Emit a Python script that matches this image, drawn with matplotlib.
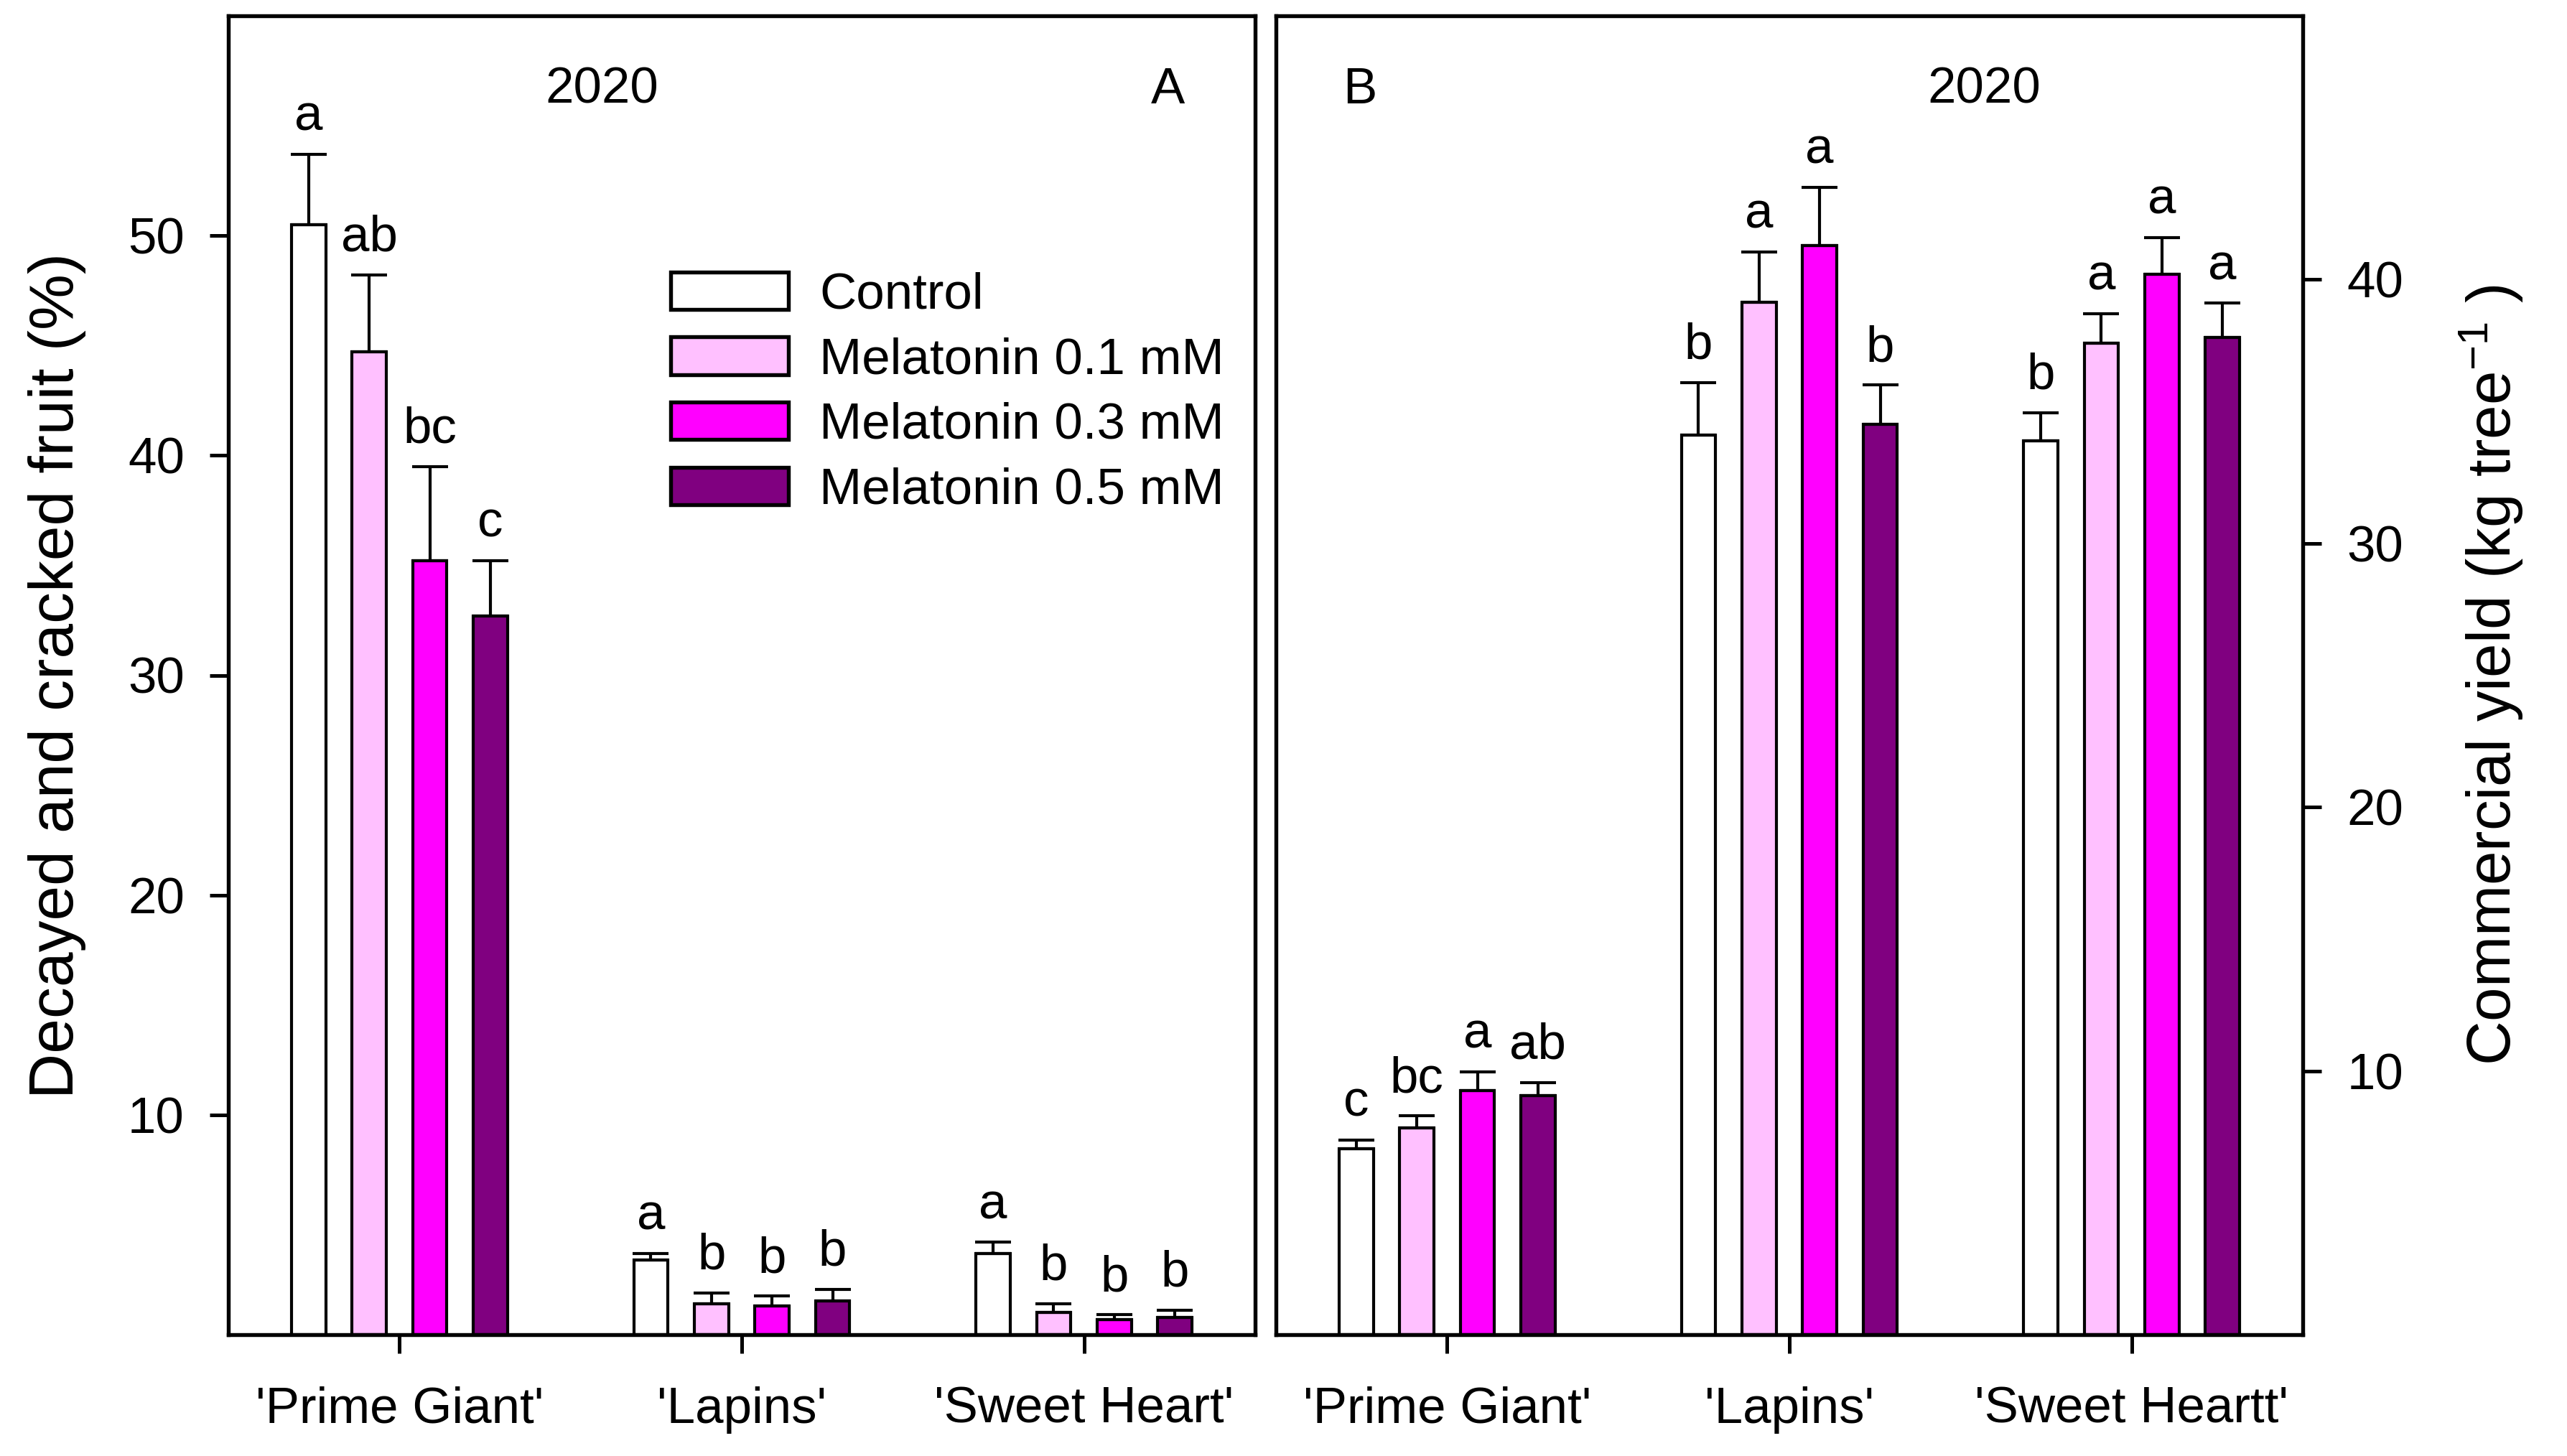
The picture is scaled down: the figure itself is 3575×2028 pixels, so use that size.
import numpy as np
import matplotlib
matplotlib.use("Agg")
import matplotlib.pyplot as plt

plt.rcParams['font.family'] = ['Liberation Sans', 'DejaVu Sans']
plt.rcParams['mathtext.fontset'] = 'custom'
plt.rcParams['mathtext.rm'] = 'Liberation Sans'
plt.rcParams['mathtext.it'] = 'Liberation Sans:italic'

# ---------------- data ----------------
cultivars_a = ["'Prime Giant'", "'Lapins'", "'Sweet Heart'"]
cultivars_b = ["'Prime Giant'", "'Lapins'", "'Sweet Heartt'"]
treatments = ["Control", "Melatonin 0.1 mM", "Melatonin 0.3 mM", "Melatonin 0.5 mM"]
colors = ["#FFFFFF", "#FFC0FF", "#FF00FF", "#800080"]

# Panel A: decayed and cracked fruit (%), per treatment across cultivars
decay_control = [50.5, 3.4, 3.7]
decay_m01 = [44.7, 1.4, 1.0]
decay_m03 = [35.2, 1.3, 0.67]
decay_m05 = [32.7, 1.55, 0.77]
decay_se_control = [3.2, 0.3, 0.5]
decay_se_m01 = [3.5, 0.5, 0.4]
decay_se_m03 = [4.3, 0.45, 0.23]
decay_se_m05 = [2.5, 0.5, 0.35]
decay_letters_control = ["a", "a", "a"]
decay_letters_m01 = ["ab", "b", "b"]
decay_letters_m03 = ["bc", "b", "b"]
decay_letters_m05 = ["c", "b", "b"]

# Panel B: commercial yield (kg tree-1)
yield_control = [7.06, 34.1, 33.9]
yield_m01 = [7.83, 39.15, 37.6]
yield_m03 = [9.25, 41.3, 40.2]
yield_m05 = [9.07, 34.5, 37.8]
yield_se_control = [0.32, 2.0, 1.05]
yield_se_m01 = [0.46, 1.9, 1.1]
yield_se_m03 = [0.71, 2.2, 1.4]
yield_se_m05 = [0.49, 1.5, 1.3]
yield_letters_control = ["c", "b", "b"]
yield_letters_m01 = ["bc", "a", "a"]
yield_letters_m03 = ["a", "a", "a"]
yield_letters_m05 = ["ab", "b", "a"]

decay_means = [decay_control, decay_m01, decay_m03, decay_m05]
decay_ses = [decay_se_control, decay_se_m01, decay_se_m03, decay_se_m05]
decay_letters = [decay_letters_control, decay_letters_m01, decay_letters_m03, decay_letters_m05]
yield_means = [yield_control, yield_m01, yield_m03, yield_m05]
yield_ses = [yield_se_control, yield_se_m01, yield_se_m03, yield_se_m05]
yield_letters = [yield_letters_control, yield_letters_m01, yield_letters_m03, yield_letters_m05]

# ---------------- figure ----------------
W, H = 3575, 2028
DPI = 300
fig = plt.figure(figsize=(W / DPI, H / DPI), dpi=DPI)

def px_axes(x0, x1, ytop, ybot):
    return [x0 / W, (H - ybot) / H, (x1 - x0) / W, (ybot - ytop) / H]

axA = fig.add_axes(px_axes(318, 1748, 22, 1859))
axB = fig.add_axes(px_axes(1777, 3207, 22, 1859))

FS = 17
bar_w = 0.10
step = 0.177
offsets = (np.arange(4) - 1.5) * step


def draw_panel(ax, means, ses, letters):
    x = np.arange(3)
    for i in range(4):
        xi = x + offsets[i]
        ax.bar(xi, means[i], width=bar_w, color=colors[i], edgecolor='black',
               linewidth=1.0, label=treatments[i], zorder=2)
        ax.errorbar(xi, means[i], yerr=[np.zeros(3), ses[i]], fmt='none',
                    ecolor='black', elinewidth=1.0, capsize=6, capthick=1.0, zorder=3)
        for xx, m, s, lab in zip(xi, means[i], ses[i], letters[i]):
            ax.annotate(lab, (xx, m + s), xytext=(0, 8), textcoords='offset points',
                        ha='center', va='baseline', fontsize=FS)
    ax.set_xlim(-0.5, 2.5)
    for sp in ax.spines.values():
        sp.set_linewidth(1.3)
    ax.tick_params(axis='both', direction='out', length=6.2, width=1.2, labelsize=FS)
    ax.tick_params(axis='x', pad=11)
    ax.tick_params(axis='y', pad=8.5)


draw_panel(axA, decay_means, decay_ses, decay_letters)
axA.set_ylim(0, 60)
axA.set_yticks([10, 20, 30, 40, 50])
axA.set_xticks(np.arange(3))
axA.set_xticklabels(cultivars_a)
axA.set_ylabel("Decayed and cracked fruit (%)", fontsize=21, labelpad=14)
axA.text(0.364, 0.9336, "2020", transform=axA.transAxes, ha='center', va='baseline', fontsize=FS)
axA.text(0.915, 0.9336, "A", transform=axA.transAxes, ha='center', va='baseline', fontsize=FS)
axA.legend(loc='upper left', bbox_to_anchor=(0.4308, 0.806), frameon=False,
           fontsize=FS, handlelength=2.32, handleheight=0.76, handletextpad=0.6,
           labelspacing=0.35, borderpad=0, borderaxespad=0)
for p in axA.get_legend().get_patches():
    p.set_linewidth(1.3)

draw_panel(axB, yield_means, yield_ses, yield_letters)
axB.set_ylim(0, 50)
axB.set_yticks([10, 20, 30, 40])
axB.set_xticks(np.arange(3))
axB.set_xticklabels(cultivars_b)
axB.yaxis.tick_right()
axB.yaxis.set_label_position('right')
axB.set_ylabel(r"Commercial yield (kg tree$^{-1}$ )", fontsize=20.5, labelpad=18)
axB.text(0.065, 0.9336, "B", transform=axB.transAxes, ha='left', va='baseline', fontsize=FS)
axB.text(0.690, 0.9336, "2020", transform=axB.transAxes, ha='center', va='baseline', fontsize=FS)

fig.savefig("out.png", dpi=DPI)
